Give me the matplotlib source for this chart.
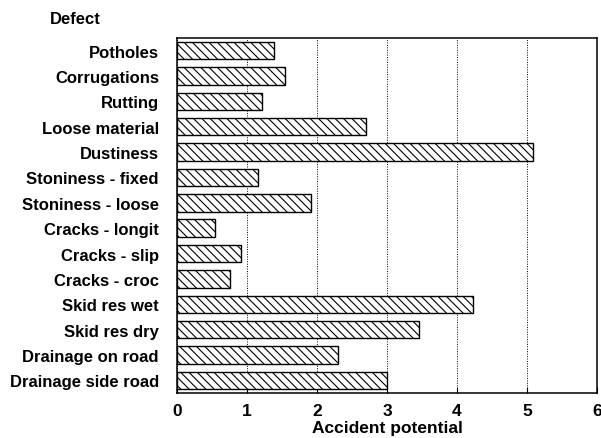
import matplotlib.pyplot as plt
import numpy as np

plt.rcParams['font.family'] = ['Liberation Sans', 'DejaVu Sans']
plt.rcParams['hatch.linewidth'] = 0.8

# defect categories and their accident potential
defects = ['Potholes', 'Corrugations', 'Rutting', 'Loose material', 'Dustiness',
           'Stoniness - fixed', 'Stoniness - loose', 'Cracks - longit', 'Cracks - slip',
           'Cracks - croc', 'Skid res wet', 'Skid res dry', 'Drainage on road',
           'Drainage side road']
potential = [1.39, 1.54, 1.22, 2.70, 5.08, 1.15, 1.91, 0.54, 0.91, 0.76,
             4.23, 3.46, 2.30, 3.00]
xticks = [0, 1, 2, 3, 4, 5, 6]

fig = plt.figure(figsize=(6.01, 4.39), dpi=100)
ax = fig.add_axes([177 / 601, 45 / 439, 420 / 601, 355 / 439])

y = np.arange(len(defects))
ax.barh(y, potential, height=0.69, color='white', edgecolor='black',
        hatch='\\\\\\\\', linewidth=1.0, zorder=3)

ax.set_xlim(0, 6)
ax.set_ylim(len(defects) - 0.5, -0.5)
ax.set_xticks(xticks)
ax.set_xticklabels([str(t) for t in xticks], fontsize=12.5, fontweight='bold')
ax.set_yticks(y)
ax.set_yticklabels(defects, fontsize=12, fontweight='bold')
ax.tick_params(axis='y', length=0, pad=13)
ax.tick_params(axis='x', direction='in', length=4, width=0.8, pad=7)

ax.grid(axis='x', linestyle=(0, (1, 1.5)), color='black', linewidth=0.7, zorder=0)
for s in ax.spines.values():
    s.set_linewidth(1.1)

ax.set_xlabel('Accident potential', fontsize=12.5, fontweight='bold', labelpad=1.5)
fig.text(50 / 601, 1 - 19 / 439, 'Defect', fontsize=12, fontweight='bold',
         ha='left', va='center')

fig.savefig('out.png', dpi=100)
